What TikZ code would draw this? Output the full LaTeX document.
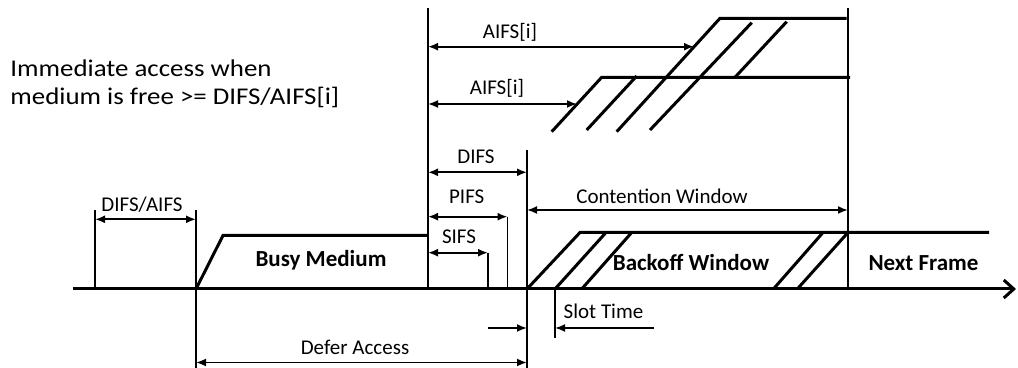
\documentclass[tikz,border=0pt]{standalone}
\usepackage{fontspec}
\setmainfont{Carlito}
\newfontfamily\notefont[FakeStretch=1.12]{Carlito}
\usetikzlibrary{arrows.meta}

\begin{document}
\begin{tikzpicture}[x=0.5pt,y=-0.5pt,
  medium/.style={line width=1.5pt,line join=miter},
  tick line/.style={line width=0.7pt},
  dim/.style={line width=0.9pt,{Latex[length=5pt,width=4pt]}-{Latex[length=5pt,width=4pt]}},
  half/.style={line width=0.9pt,-{Latex[length=5pt,width=4pt]}},
  lbl/.style={font=\fontsize{10.5}{12}\selectfont,inner sep=0pt,anchor=base},
  bold lbl/.style={font=\fontsize{11.5}{13}\selectfont\bfseries,inner sep=0pt,anchor=base}]
\useasboundingbox (0,0) rectangle (1018,368);

% instants on the time axis
\coordinate (start) at (73,289);
\coordinate (free) at (95,289);
\coordinate (busy) at (196,289);
\coordinate (idle) at (428,289);
\coordinate (sifs) at (488,289);
\coordinate (pifs) at (507.5,289);
\coordinate (difs) at (527,289);
\coordinate (slot) at (555,289);
\coordinate (next) at (848,289);
\coordinate (end) at (1016,289);

% time axis
\draw[medium,-{Straight Barb[length=5pt,width=9pt]}] (start) -- (end);

% busy medium
\draw[medium] (busy) -- (223,235.5) -- (idle |- 0,235.5);
\node[bold lbl] (busytxt) at (321,266.7) {Busy Medium};

% backoff window
\draw[medium] (difs) -- (580,232.5) -- (989,232.5);
\draw[medium] (slot) -- (606,232.5);
\draw[medium] (581.7,289) -- (631.7,232.5);
\draw[medium] (773.4,289) -- (823,232.5);
\draw[medium] (797.3,289) -- (848,232.5);
\node[bold lbl] (backoff) at (691,270.7) {Backoff Window};
\node[bold lbl] (nexttxt) at (923.5,270.7) {Next Frame};

% AIFS[i] queues
\draw[medium] (551.7,131.7) -- (601.7,77.3) -- (850,77.3);
\draw[medium] (586.7,130) -- (636.7,76);
\draw[medium] (616.7,131.7) -- (720,18.3) -- (846.7,18.3);
\draw[medium] (650,130) -- (751.7,22.7);
\draw[medium] (735,77.3) -- (786.7,21.7);

% markers
\draw[tick line] (free) -- (free |- 0,210);
\draw[tick line] (busy |- 0,210) -- (busy |- 0,368);
\draw[tick line] (idle |- 0,8) -- (idle);
\draw[tick line] (sifs |- 0,252.7) -- (sifs);
\draw[tick line] (pifs |- 0,216.7) -- (pifs);
\draw[tick line] (difs |- 0,150) -- (difs |- 0,368);
\draw[tick line] (slot) -- (slot |- 0,338);
\draw[tick line] (next |- 0,8) -- (next);

% intervals
\draw[dim] (free |- 0,219.3) -- (busy |- 0,219.3);
\node[lbl] (difsaifs) at (142,211.7) {DIFS/AIFS};
\draw[dim] (idle |- 0,46.7) -- (694,46.7);
\node[lbl] (aifs1) at (510,38.3) {AIFS[i]};
\draw[dim] (idle |- 0,104) -- (577,104);
\node[lbl] (aifs2) at (497,95) {AIFS[i]};
\draw[dim] (idle |- 0,172.3) -- (difs |- 0,172.3);
\node[lbl] (difstxt) at (476,164) {DIFS};
\draw[dim] (idle |- 0,216.7) -- (pifs |- 0,216.7);
\node[lbl] (pifstxt) at (466.7,203.3) {PIFS};
\draw[dim] (idle |- 0,252.7) -- (sifs |- 0,252.7);
\node[lbl] (sifstxt) at (459,244) {SIFS};
\draw[dim] (difs |- 0,210) -- (next |- 0,210);
\node[lbl] (cw) at (662,203.3) {Contention Window};
\draw[half] (488,328) -- (difs |- 0,328);
\draw[half] (654,328) -- (slot |- 0,328);
\node[lbl] (slottxt) at (603.5,319) {Slot Time};
\draw[dim] (busy |- 0,362.5) -- (difs |- 0,362.5);
\node[lbl] (defer) at (355,355) {Defer Access};

\node[font=\notefont\fontsize{12}{14.2}\selectfont,align=left,inner sep=0pt,anchor=base west] (note) at (10,105)
  {Immediate access when\\medium is free >= DIFS/AIFS[i]};
\end{tikzpicture}
\end{document}
